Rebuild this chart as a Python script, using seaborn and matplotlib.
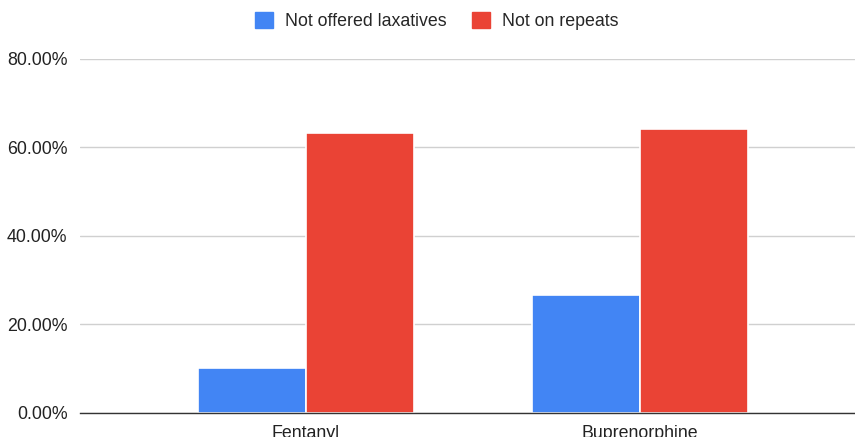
import pandas as pd
import matplotlib.pyplot as plt
import matplotlib.ticker as mticker
from matplotlib.patches import Patch
import seaborn as sns

# ── Data ──────────────────────────────────────────────────────────────────────
categories = ["Fentanyl", "Buprenorphine"]
series = ["Not offered laxatives", "Not on repeats"]
not_offered_laxatives = [0.102, 0.266]
not_on_repeats = [0.632, 0.642]
colors = ["#4285F4", "#EA4335"]

df = pd.DataFrame({
    "drug": categories * 2,
    "series": [series[0]] * 2 + [series[1]] * 2,
    "value": not_offered_laxatives + not_on_repeats,
})

# ── Plot ──────────────────────────────────────────────────────────────────────
sns.set_theme(style="white")
plt.rcParams["font.family"] = ["Liberation Sans", "DejaVu Sans"]

fig = plt.figure(figsize=(8.55, 4.37), dpi=100)
ax = fig.add_axes([80 / 855, 24.3 / 437, 775 / 855, 354 / 437])

sns.barplot(
    data=df, x="drug", y="value", hue="series",
    palette=colors, saturation=1, width=0.645, edgecolor="white", linewidth=1.2,
    ax=ax, legend=False, zorder=3,
)

ax.set_ylim(0, 0.8)
ax.set_xlim(-0.677, 1.644)
ax.yaxis.set_major_locator(mticker.MultipleLocator(0.2))
ax.yaxis.set_major_formatter(mticker.FuncFormatter(lambda v, _: f"{v * 100:.2f}%"))
ax.grid(axis="y", color="#d0d0d0", linewidth=1, zorder=0)
ax.set_xlabel("")
ax.set_ylabel("")
for side in ["top", "right", "left"]:
    ax.spines[side].set_visible(False)
ax.spines["bottom"].set_color("#333333")
ax.spines["bottom"].set_linewidth(1)
ax.spines["bottom"].set_zorder(4)
ax.tick_params(axis="y", length=0, pad=9, labelsize=12.8, labelcolor="#222222")
ax.tick_params(axis="x", length=0, pad=9, labelsize=12.8, labelcolor="#222222")

handles = [Patch(facecolor=c, edgecolor=c) for c in colors]
fig.legend(
    handles, series, loc="center", bbox_to_anchor=(437 / 855, 1 - 21 / 437),
    ncol=2, frameon=False, fontsize=12.8, handlelength=1.0, handleheight=1.0,
    handletextpad=0.7, columnspacing=1.4,
)

plt.savefig("out.png", dpi=100)
